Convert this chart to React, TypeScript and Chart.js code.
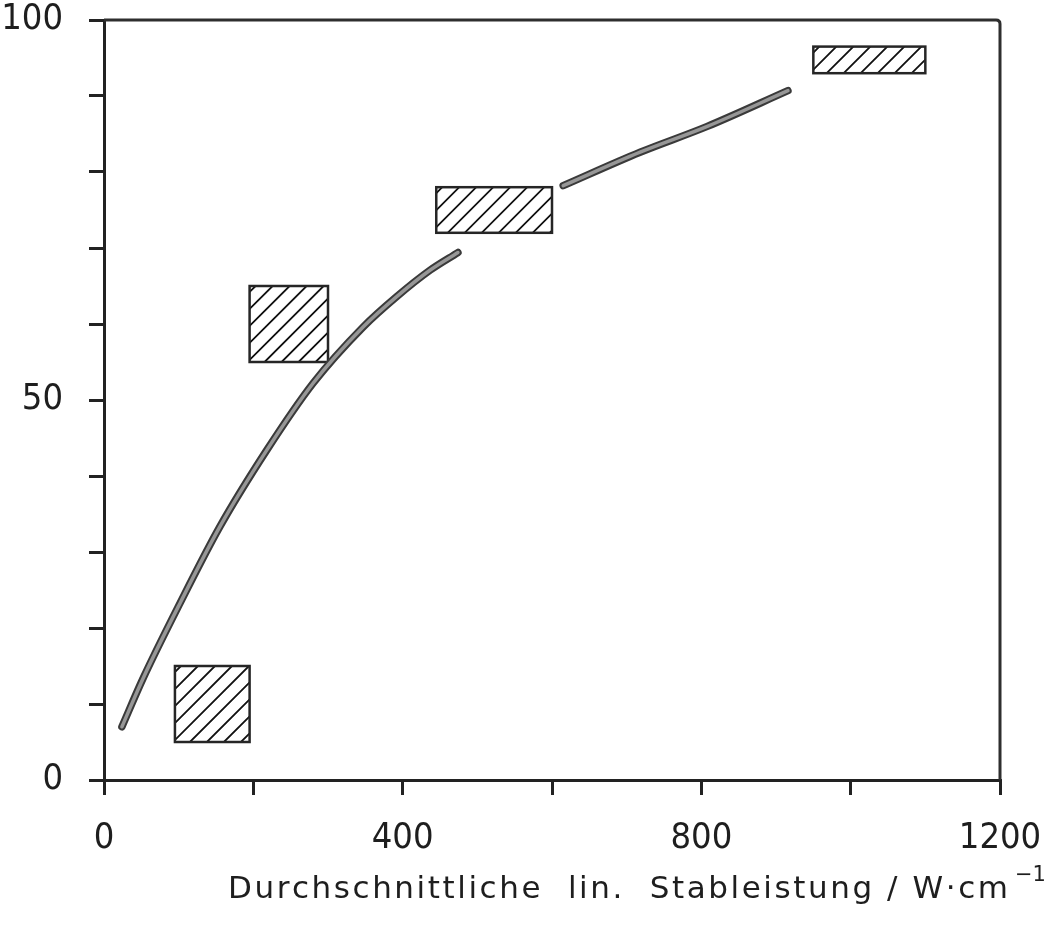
import React, { useEffect, useRef } from 'react';
import { Chart, registerables } from 'chart.js';

Chart.register(...registerables);

// ---- data ----
const curveX = [24, 52, 102, 155, 218, 280, 347, 392, 437, 474, 545, 615, 718, 808, 916];
const curveY: (number | null)[] = [7, 13.3, 23.3, 33.3, 43.4, 52.2, 59.6, 63.6, 67.1, 69.4, null, 78.2, 82.6, 86.0, 90.7];

const boxXFrom = [95, 195, 445, 950];
const boxXTo = [195, 300, 600, 1100];
const boxYFrom = [5, 55, 72, 93];
const boxYTo = [15, 65, 78, 96.5];

const xTickLabels = [0, 400, 800, 1200];
const yTickLabels = [0, 50, 100];

const xTitle = 'Durchschnittliche  lin.  Stableistung / W·cm';
const xTitleSup = '−1';

const tickFamily = "'Liberation Sans Narrow', 'DejaVu Sans Condensed', sans-serif";
const titleFamily = "'DejaVu Sans', sans-serif";
const ink = '#1e1e1e';

const curvePoints = curveX.map((x, i) => ({ x, y: curveY[i] }));

const decorPlugin = {
  id: 'decor',
  beforeDatasetsDraw(chart: any) {
    const { ctx } = chart;
    const xs = chart.scales.x;
    const ys = chart.scales.y;
    ctx.save();
    for (let i = 0; i < boxXFrom.length; i++) {
      const l = xs.getPixelForValue(boxXFrom[i]);
      const r = xs.getPixelForValue(boxXTo[i]);
      const t = ys.getPixelForValue(boxYTo[i]);
      const b = ys.getPixelForValue(boxYFrom[i]);
      const h = b - t;
      ctx.save();
      ctx.beginPath();
      ctx.rect(l, t, r - l, h);
      ctx.clip();
      ctx.strokeStyle = '#111';
      ctx.lineWidth = 1.8;
      ctx.beginPath();
      for (let x0 = l - h + 6; x0 < r; x0 += 17) {
        ctx.moveTo(x0, b);
        ctx.lineTo(x0 + h, t);
      }
      ctx.stroke();
      ctx.restore();
      ctx.strokeStyle = '#262626';
      ctx.lineWidth = 2.5;
      ctx.strokeRect(l, t, r - l, h);
    }
    ctx.restore();
  },
  afterDraw(chart: any) {
    const { ctx, chartArea } = chart;
    const { left, right, top, bottom } = chartArea;
    ctx.save();
    ctx.strokeStyle = '#2e2e2e';
    ctx.lineWidth = 3;
    ctx.lineJoin = 'round';
    ctx.beginPath();
    ctx.moveTo(left, top);
    ctx.lineTo(right - 4, top);
    ctx.quadraticCurveTo(right, top, right, top + 4);
    ctx.lineTo(right, bottom);
    ctx.stroke();

    // x-axis title
    ctx.fillStyle = ink;
    ctx.textBaseline = 'alphabetic';
    ctx.textAlign = 'left';
    ctx.font = `31px ${titleFamily}`;
    const chars = [...xTitle];
    const widths = chars.map((c) => ctx.measureText(c).width);
    const total = widths.reduce((a, b) => a + b, 0);
    const startX = left + 124;
    const endX = right + 8;
    const extra = Math.max(0, (endX - startX - total) / (chars.length - 1));
    let cx = startX;
    const baseY = bottom + 118;
    chars.forEach((c, i) => {
      ctx.fillText(c, cx, baseY);
      cx += widths[i] + extra;
    });
    cx -= extra;
    ctx.font = `21px ${titleFamily}`;
    ctx.fillText(xTitleSup, cx + 7, baseY - 17);
    ctx.restore();
  },
};

export default function App() {
  const ref = useRef<HTMLCanvasElement | null>(null);
  useEffect(() => {
    if (!ref.current) return;
    const chart = new Chart(ref.current, {
      type: 'line',
      data: {
        datasets: [
          {
            data: curvePoints,
            borderColor: '#979797',
            borderWidth: 3.5,
            pointRadius: 0,
            cubicInterpolationMode: 'monotone',
            borderCapStyle: 'round',
            spanGaps: false,
            order: 1,
          } as any,
          {
            data: curvePoints,
            borderColor: '#3a3a3a',
            borderWidth: 7.5,
            pointRadius: 0,
            cubicInterpolationMode: 'monotone',
            borderCapStyle: 'round',
            spanGaps: false,
            order: 2,
          } as any,
        ],
      },
      options: {
        animation: false,
        responsive: false,
        devicePixelRatio: 1,
        layout: { padding: { left: 0, top: 20, right: 49, bottom: 0 } },
        plugins: { legend: { display: false }, tooltip: { enabled: false }, title: { display: false } },
        scales: {
          x: {
            type: 'linear',
            min: 0,
            max: 1200,
            afterFit: (s: any) => {
              s.height = 161;
              s.paddingLeft = 0;
              s.paddingRight = 0;
            },
            ticks: {
              stepSize: 200,
              autoSkip: false,
              maxRotation: 0,
              padding: 22,
              color: ink,
              font: { family: tickFamily, size: 36 },
              callback: (v: any) => (xTickLabels.includes(Number(v)) ? String(v) : ''),
            },
            grid: { drawOnChartArea: false, drawTicks: true, tickLength: 15, color: '#222', lineWidth: 3 },
            border: { display: true, color: '#222', width: 3 },
          },
          y: {
            type: 'linear',
            min: 0,
            max: 100,
            afterFit: (s: any) => {
              s.width = 104;
              s.paddingTop = 0;
              s.paddingBottom = 0;
            },
            ticks: {
              stepSize: 10,
              autoSkip: false,
              padding: 26,
              color: ink,
              font: { family: tickFamily, size: 36 },
              callback: (v: any) => (yTickLabels.includes(Number(v)) ? String(v) : ''),
            },
            grid: { drawOnChartArea: false, drawTicks: true, tickLength: 15, color: '#222', lineWidth: 3 },
            border: { display: true, color: '#222', width: 3 },
          },
        },
      } as any,
      plugins: [decorPlugin],
    });
    return () => chart.destroy();
  }, []);
  return (
    <div style={{ position: 'absolute', left: 0, top: 0, width: 1049, height: 941, background: '#fff' }}>
      <canvas ref={ref} width={1049} height={941} style={{ display: 'block' }} />
    </div>
  );
}
